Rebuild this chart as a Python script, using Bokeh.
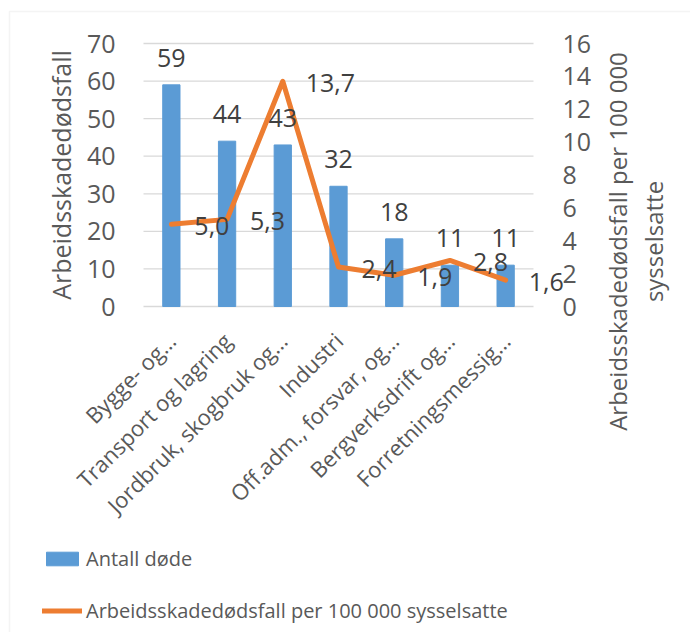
import math
from bokeh.plotting import figure
from bokeh.models import (ColumnDataSource, Range1d, LinearAxis, Legend, LegendItem,
                          FixedTicker, LabelSet, Label, BoxAnnotation)
from bokeh.core.properties import value
from bokeh.embed import file_html
from bokeh.resources import INLINE

categories = ["Bygge- og…", "Transport og lagring", "Jordbruk, skogbruk og…", "Industri",
              "Off.adm., forsvar, og…", "Bergverksdrift og…", "Forretningsmessig…"]
deaths = [59, 44, 43, 32, 18, 11, 11]
rate = [5.0, 5.3, 13.7, 2.4, 1.9, 2.8, 1.6]
left_ticks = [0, 10, 20, 30, 40, 50, 60, 70]
right_ticks = [0, 2, 4, 6, 8, 10, 12, 14, 16]
left_title = "Arbeidsskadedødsfall"
right_title = ["Arbeidsskadedødsfall per 100 000", "sysselsatte"]
series_names = ["Antall døde", "Arbeidsskadedødsfall per 100 000 sysselsatte"]

FONT = "Open Sans"
GREY = "#595959"
DARK = "#404040"
FS = "25px"

# canvas and plot-area geometry (pixels)
W, H = 690, 632
PL, PR, PT, PB = 143, 533, 43, 306

n = len(categories)
idx = list(range(n))
LMAX, RMAX = left_ticks[-1], right_ticks[-1]

cw = (PR - PL) / n                      # px per category
xs = -0.5 - PL / cw
xe = xs + W / cw
lu = LMAX / (PB - PT)                   # left units per px
ru = RMAX / (PB - PT)

src = ColumnDataSource(dict(
    x=idx, deaths=deaths, rate=rate,
    dlab=[str(v) for v in deaths],
    rlab=[f"{v:.1f}".replace(".", ",") for v in rate],
))

p = figure(width=W, height=H, x_range=Range1d(xs, xe),
           y_range=Range1d(-(H - PB) * lu, LMAX + PT * lu),
           output_backend="svg", toolbar_location=None, x_axis_location=None, y_axis_location=None,
           min_border=0)
p.outline_line_color = None
p.extra_y_ranges = {"rate": Range1d(-(H - PB) * ru, RMAX + PT * ru)}
p.xgrid.grid_line_color = None
p.ygrid.grid_line_color = None

# light chart-area border (left and top edges visible)
p.add_layout(BoxAnnotation(left=9, right=W + 20, top=H - 11, bottom=-20,
                           left_units="screen", right_units="screen",
                           top_units="screen", bottom_units="screen",
                           fill_alpha=0, line_color="#d9d9d9", line_width=1.5))

# horizontal gridlines across the category band
p.segment(x0=[-0.5] * len(left_ticks), x1=[n - 0.5] * len(left_ticks), y0=left_ticks, y1=left_ticks,
          line_color="#d9d9d9", line_width=1.3)

bars = p.vbar(x="x", top="deaths", width=0.31, color="#5B9BD5", source=src)
line = p.line(x="x", y="rate", y_range_name="rate", line_color="#ED7D31", line_width=5,
              line_join="round", line_cap="round", source=src)

p.add_layout(LabelSet(x="x", y="deaths", text="dlab", source=src, text_align="center",
                      text_baseline="middle", y_offset=27, text_font=value(FONT),
                      text_font_size=value(FS), text_color=value(DARK)))
p.add_layout(LabelSet(x="x", y="rate", text="rlab", source=src, y_range_name="rate",
                      text_align="left", text_baseline="middle", x_offset=23, y_offset=-2,
                      text_font=value(FONT), text_font_size=value(FS), text_color=value(DARK)))


def style(a, fs=FS):
    a.axis_line_color = None
    a.major_tick_line_color = None
    a.minor_tick_line_color = None
    a.major_tick_out = 0
    a.major_tick_in = 0
    a.minor_tick_out = 0
    a.minor_tick_in = 0
    a.major_label_text_font = FONT
    a.major_label_text_font_size = fs
    a.major_label_text_color = GREY
    a.axis_label_text_font = FONT
    a.axis_label_text_font_size = FS
    a.axis_label_text_font_style = "normal"
    a.axis_label_text_color = GREY


lax = LinearAxis(ticker=FixedTicker(ticks=left_ticks), fixed_location=-0.5, bounds=(0, LMAX),
                 axis_label=left_title)
style(lax)
lax.major_label_standoff = 28
lax.axis_label_standoff = 6
p.add_layout(lax, "left")

rax = LinearAxis(y_range_name="rate", ticker=FixedTicker(ticks=right_ticks), fixed_location=n - 0.5,
                 bounds=(0, RMAX))
style(rax)
rax.major_label_standoff = 29
p.add_layout(rax, "right")

xa = LinearAxis(ticker=FixedTicker(ticks=idx), fixed_location=0, bounds=(-0.5, n - 0.5))
style(xa, "22px")
xa.major_label_overrides = {i: c for i, c in enumerate(categories)}
xa.major_label_orientation = math.pi / 4
xa.major_label_standoff = 30
p.add_layout(xa, "below")

for i, txt in enumerate(right_title):
    p.add_layout(Label(x=617 + 36 * i, y=H - 241, x_units="screen", y_units="screen", text=txt,
                       angle=math.pi / 2, text_align="center", text_baseline="middle",
                       text_font=FONT, text_font_size="24px", text_color=GREY))

legend = Legend(items=[LegendItem(label=series_names[0], renderers=[bars]),
                       LegendItem(label=series_names[1], renderers=[line])],
                location=(42, 8), orientation="vertical",
                glyph_width=40, glyph_height=17, label_standoff=4, spacing=25, padding=0, margin=0,
                border_line_color=None, background_fill_alpha=0,
                label_text_font=FONT, label_text_font_size="20px", label_text_color=GREY)
p.add_layout(legend, "center")

open("out.html", "w").write(file_html(p, INLINE))
